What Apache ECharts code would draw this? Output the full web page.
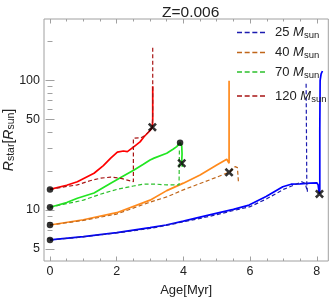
<!DOCTYPE html>
<html>
<head>
<meta charset="utf-8">
<script src="https://cdn.jsdelivr.net/npm/echarts@6/dist/echarts.min.js"></script>
<style>html,body{margin:0;padding:0;background:#fff}#c{width:332px;height:300px}</style>
</head>
<body>
<div id="c"></div>
<script>
// ---- data (Age in Myr, radius in R_sun) ----
const legendNames = ['25', '40', '70', '120'];
const xTickLabels = [0, 2, 4, 6, 8];
const yTickLabels = [5, 10, 50, 100];
const yMinorTicks = [6, 7, 8, 9, 20, 30, 40, 60, 70, 80, 90, 200];

const s25Age = [0, 1, 2, 3, 3.48, 4, 4.5, 4.98, 5.5, 5.97, 6.48, 6.98, 7.23, 7.5, 7.8, 8.0, 8.04, 8.06, 8.08, 8.09, 8.09, 8.1, 8.13, 8.17];
const s25R   = [5.87, 6.22, 6.68, 7.3, 7.66, 8.2, 8.8, 9.4, 10.1, 10.9, 12.7, 15.1, 15.8, 15.9, 16.1, 16.2, 15.6, 14.2, 13.3, 14.5, 40, 100, 112, 118];
const d25Age = [0, 1, 2, 3, 3.48, 4, 4.5, 5, 5.5, 6, 6.5, 7, 7.3, 7.55, 7.65, 7.7, 7.72, 7.7, 7.69, 7.68];
const d25R   = [5.87, 6.2, 6.65, 7.2, 7.6, 8.1, 8.6, 9.2, 9.9, 10.6, 12.2, 14.4, 15.5, 16.5, 16.0, 14.5, 13.8, 16, 40, 95];

const s40Age = [0, 1, 2, 3, 3.5, 4, 4.5, 5, 5.3, 5.34, 5.37, 5.37, 5.37];
const s40R   = [7.66, 8.4, 9.53, 11.9, 14.1, 16.1, 18.6, 22.2, 24.6, 24.2, 22.9, 60, 99];
const d40Age = [0, 1, 2, 3, 3.5, 4, 4.5, 5, 5.4, 5.55, 5.62, 5.65, 5.65];
const d40R   = [7.66, 8.3, 9.3, 11.5, 12.6, 14.3, 16, 17.9, 19.7, 21.6, 21.2, 20.5, 16.5];

const s70Age = [0, 0.5, 0.82, 1.32, 1.82, 2.2, 2.52, 2.8, 3.0, 3.12, 3.5, 3.7, 3.8, 3.9, 3.95, 3.96, 3.95, 3.97];
const s70R   = [10.5, 11.4, 12.3, 13.5, 16.1, 18.3, 20.3, 22.5, 24.3, 25.1, 27.4, 29.5, 30.8, 33, 31, 27, 24, 21.5];
const d70Age = [0, 0.5, 1, 1.5, 2, 2.5, 2.8, 3.2, 3.5, 3.87, 3.88];
const d70R   = [10.5, 11.2, 11.9, 13.2, 14.4, 15.3, 15.8, 15.8, 15.6, 15.6, 29.5];

const s120Age = [0, 0.5, 0.82, 1.32, 1.6, 1.82, 2.02, 2.2, 2.32, 2.52, 2.7, 2.82, 3.0, 3.07, 3.08, 3.08, 3.13, 3.08, 3.08];
const s120R   = [14.4, 15.5, 16.5, 19.2, 22, 25.1, 27.9, 28.5, 28.2, 30.8, 33.5, 36.7, 41, 43.5, 50, 66, 67, 68, 90];
const d120Age = [0, 0.5, 0.82, 1.2, 1.52, 1.82, 2.1, 2.32, 2.5, 2.5, 2.72, 2.85, 3.0, 3.07, 3.08, 3.08];
const d120R   = [14.4, 15.2, 15.6, 16.8, 17.6, 17.9, 17.6, 17.0, 16.5, 35.7, 36, 37.5, 41, 43.5, 60, 178];

const dotAge = [0, 0, 0, 0, 3.9];
const dotR   = [5.87, 7.66, 10.5, 14.4, 33];
const crossAge = [8.08, 5.37, 3.95, 3.07];
const crossR   = [13.3, 19.5, 22.9, 43.5];

// ---- build ----
const L = v => Math.log10(v);
const pts = (a, r) => a.map((x, i) => [x, L(r[i])]);
const FONT = 'Liberation Sans, Arial, sans-serif';
const FRAME = '#a0a0a0';
const xMin = -0.18, xMax = 8.345;
const yMin = L(4.04), yMax = L(297);
const xMinor = [];
for (let v = 0.5; v < 8.3; v += 0.5) if (v % 2 !== 0) xMinor.push(v);

function xAx(pos, custom, len, labels) {
  return {
    type: 'value', min: xMin, max: xMax, position: pos,
    splitLine: { show: false }, axisLine: { show: false },
    axisTick: { show: true, inside: true, length: len, customValues: custom, lineStyle: { color: FRAME, width: 1 } },
    axisLabel: labels ? { show: true, customValues: custom, margin: 4, fontFamily: FONT, fontSize: 12.5, color: '#222' } : { show: false }
  };
}
function yAx(pos, custom, len, labels) {
  return {
    type: 'value', min: yMin, max: yMax, position: pos,
    splitLine: { show: false }, axisLine: { show: false },
    axisTick: { show: true, inside: true, length: len, customValues: custom, lineStyle: { color: FRAME, width: 1 } },
    axisLabel: labels ? { show: true, customValues: custom, margin: 4, fontFamily: FONT, fontSize: 12.5, color: '#222',
      formatter: v => String(Math.round(Math.pow(10, v))) } : { show: false }
  };
}
const xAxes = [xAx('bottom', xTickLabels, 4.5, true), xAx('bottom', xMinor, 2.5, false), xAx('top', xTickLabels, 4.5, false), xAx('top', xMinor, 2.5, false)];
xAxes[0].name = 'Age[Myr]';
xAxes[0].nameLocation = 'middle';
xAxes[0].nameGap = 23;
xAxes[0].nameTextStyle = { fontFamily: FONT, fontSize: 13, color: '#222' };
const yMajorVals = yTickLabels.map(L);
const yMinorVals = yMinorTicks.map(L);
const yAxes = [yAx('left', yMajorVals, 4.5, true), yAx('left', yMinorVals, 2.5, false), yAx('right', yMajorVals, 4.5, false), yAx('right', yMinorVals, 2.5, false)];
yAxes[0].name = '{i|R}{s|star}{n|[}{i|R}{s|sun}{n|]}';
yAxes[0].nameLocation = 'middle';
yAxes[0].nameRotate = 90;
yAxes[0].nameGap = 27;
yAxes[0].nameMoveOverlap = false;
yAxes[0].nameTextStyle = {
  fontFamily: FONT, color: '#222',
  rich: {
    i: { fontFamily: FONT, fontSize: 14, fontStyle: 'italic', color: '#222', lineHeight: 16 },
    n: { fontFamily: FONT, fontSize: 14, color: '#222', lineHeight: 16 },
    s: { fontFamily: FONT, fontSize: 10.5, color: '#222', lineHeight: 9, verticalAlign: 'bottom' }
  }
};

const solidCol = ['#0000ff', '#ff8a1c', '#22e622', '#ff0000'];
const dashCol  = ['#1c1cb0', '#c0661a', '#2cc02c', '#a81414'];
const sAges = [s25Age, s40Age, s70Age, s120Age], sRs = [s25R, s40R, s70R, s120R];
const dAges = [d25Age, d40Age, d70Age, d120Age], dRs = [d25R, d40R, d70R, d120R];

const series = [];
for (let k = 0; k < 4; k++) {
  series.push({ type: 'line', name: 'solid' + k, data: pts(sAges[k], sRs[k]), symbol: 'none', showSymbol: false,
    lineStyle: { color: solidCol[k], width: 1.7 }, itemStyle: { color: solidCol[k] }, z: 2, silent: true });
}
for (let k = 0; k < 4; k++) {
  series.push({ type: 'line', name: legendNames[k], data: pts(dAges[k], dRs[k]), symbol: 'none', showSymbol: false,
    lineStyle: { color: dashCol[k], width: 1.2, type: [4, 2.5] }, itemStyle: { color: dashCol[k] }, z: 3, silent: true });
}
series.push({ type: 'scatter', name: 'dots', data: pts(dotAge, dotR), symbol: 'circle', symbolSize: 6.5,
  itemStyle: { color: '#000' }, z: 5, silent: true });
series.push({ type: 'scatter', name: 'cross', data: pts(crossAge, crossR),
  symbol: 'path://M0,2 L2,0 L5,3 L8,0 L10,2 L7,5 L10,8 L8,10 L5,7 L2,10 L0,8 L3,5 Z', symbolSize: 9,
  itemStyle: { color: '#000' }, z: 6, silent: true });

const dashIcon = 'path://M0,0 L5,0 L5,1.3 L0,1.3 Z M7.67,0 L12.67,0 L12.67,1.3 L7.67,1.3 Z M15.33,0 L20.33,0 L20.33,1.3 L15.33,1.3 Z M23,0 L28,0 L28,1.3 L23,1.3 Z';
const legendCenters = [34, 54, 73.5, 97.5];
const legends = legendNames.map((nm, k) => ({
  data: [{ name: nm, icon: dashIcon }], left: 237, top: legendCenters[k] - 8, orient: 'vertical', itemWidth: 28, itemHeight: 1.3,
  selectedMode: false, padding: 0,
  formatter: n => '{a|' + n + ' }{m|M}{s|sun}',
  textStyle: {
    fontFamily: FONT, color: '#222',
    rich: {
      a: { fontFamily: FONT, fontSize: 13, color: '#222', lineHeight: 16, padding: [0, 0, 0, 5] },
      m: { fontFamily: FONT, fontSize: 13, fontStyle: 'italic', color: '#222', lineHeight: 16 },
      s: { fontFamily: FONT, fontSize: 9.5, color: '#222', lineHeight: 8, verticalAlign: 'bottom' }
    }
  }
}));

const chart = echarts.init(document.getElementById('c'), null, { renderer: 'canvas' });
chart.setOption({
  animation: false,
  backgroundColor: '#fff',
  title: { text: 'Z=0.006', left: 157, top: 0, textStyle: { fontFamily: FONT, fontSize: 15.5, fontWeight: 'normal', color: '#222' } },
  grid: { left: 44, top: 19, width: 284.3, height: 242, show: true, borderColor: FRAME, borderWidth: 1, backgroundColor: 'transparent', outerBoundsMode: 'none', containLabel: false },
  legend: legends,
  xAxis: xAxes,
  yAxis: yAxes,
  series: series
});
</script>
</body>
</html>
